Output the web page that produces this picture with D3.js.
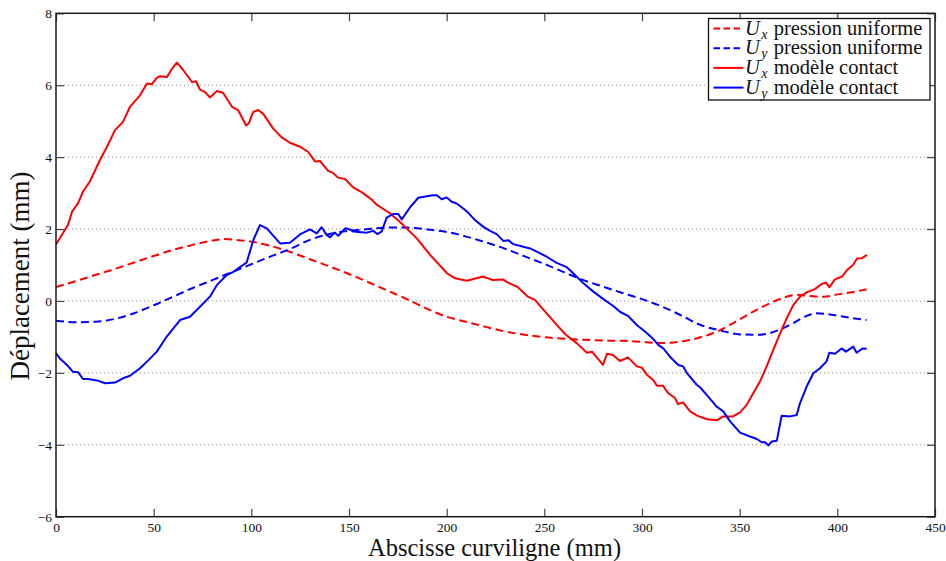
<!DOCTYPE html>
<html>
<head>
<meta charset="utf-8">
<script src="https://cdn.jsdelivr.net/npm/d3@7"></script>
<style>
  body { margin: 0; background: #fff; }
  svg { display: block; }
  svg text { font-family: 'Liberation Serif', 'DejaVu Serif', serif; fill: #111; }
</style>
</head>
<body>
<svg id="chart" width="946" height="561"></svg>
<script>
// Axis ticks and labels
const xTicks = [0, 50, 100, 150, 200, 250, 300, 350, 400, 450];
const xTickLabels = ["0", "50", "100", "150", "200", "250", "300", "350", "400", "450"];
const yTicks = [-6, -4, -2, 0, 2, 4, 6, 8];
const yTickLabels = ["\u22126", "\u22124", "\u22122", "0", "2", "4", "6", "8"];
const xLabel = "Abscisse curviligne (mm)";
const yLabel = "Déplacement (mm)";
const serif = "'Liberation Serif', 'DejaVu Serif', serif";

// Ux, uniform pressure  [abscissa mm, displacement mm]
const uxUniform = [
  [0, 0.39], [10, 0.55], [20, 0.72], [30, 0.89], [40, 1.07], [50, 1.25], [60, 1.42],
  [70, 1.56], [80, 1.68], [86, 1.72], [92, 1.70], [100, 1.65], [110, 1.53], [120, 1.36],
  [130, 1.16], [140, 0.96], [150, 0.75], [160, 0.52], [170, 0.28], [180, 0.04], [190, -0.22],
  [200, -0.44], [210, -0.58], [220, -0.72], [230, -0.85], [240, -0.94], [250, -1.01],
  [260, -1.05], [270, -1.08], [280, -1.10], [290, -1.11], [300, -1.14], [310, -1.17],
  [320, -1.13], [330, -1.01], [340, -0.81], [350, -0.51], [360, -0.21], [370, 0.04],
  [379, 0.17], [386, 0.14], [393, 0.12], [401, 0.19], [408, 0.25], [415, 0.32]
];

// Uy, uniform pressure
const uyUniform = [
  [0, -0.55], [10, -0.59], [20, -0.58], [30, -0.50], [40, -0.34], [50, -0.12], [60, 0.12],
  [70, 0.36], [80, 0.58], [90, 0.80], [100, 1.02], [110, 1.24], [120, 1.45], [130, 1.70],
  [140, 1.86], [150, 1.95], [160, 2.00], [170, 2.04], [180, 2.04], [190, 1.99], [200, 1.92],
  [210, 1.79], [220, 1.63], [230, 1.45], [240, 1.24], [250, 1.03], [260, 0.80], [270, 0.58],
  [280, 0.40], [290, 0.22], [300, 0.05], [310, -0.15], [320, -0.40], [330, -0.67],
  [340, -0.82], [350, -0.93], [360, -0.94], [370, -0.81], [378, -0.60], [384, -0.42],
  [389, -0.34], [398, -0.39], [408, -0.48], [415, -0.53]
];

// Ux, contact model
const uxContact = [
  [0, 1.57], [6.1, 2.11], [8.2, 2.48], [11.3, 2.72], [13.8, 3.04], [17.4, 3.33], [22.5, 3.92],
  [26.1, 4.29], [30.2, 4.75], [34.3, 4.98], [37.9, 5.40], [43.0, 5.72], [46.6, 6.05],
  [49.1, 6.03], [51.7, 6.21], [53.2, 6.25], [56.8, 6.23], [59.4, 6.46], [61.9, 6.63],
  [65.0, 6.43], [69.6, 6.09], [71.7, 6.11], [73.7, 5.88], [76.3, 5.81], [78.8, 5.66],
  [82.4, 5.84], [85.5, 5.79], [90.1, 5.40], [93.2, 5.31], [97.3, 4.88], [98.8, 4.95],
  [100.9, 5.25], [103.4, 5.31], [106.0, 5.21], [111.1, 4.80], [115.7, 4.54], [119.8, 4.40],
  [124.9, 4.29], [129.0, 4.15], [132.6, 3.88], [135.2, 3.89], [139.3, 3.62], [141.8, 3.56],
  [144.4, 3.43], [148.0, 3.39], [152.1, 3.16], [156.7, 3.02], [161.8, 2.81], [164.3, 2.67],
  [171.0, 2.44], [177.8, 2.11], [184.7, 1.74], [191.5, 1.28], [200.2, 0.77], [204.3, 0.63],
  [210.4, 0.56], [218.6, 0.68], [223.7, 0.58], [228.8, 0.60], [231.4, 0.51], [236.0, 0.40],
  [241.6, 0.12], [245.2, 0.03], [248.8, -0.20], [256.5, -0.67], [260.6, -0.92],
  [266.7, -1.18], [271.8, -1.44], [274.4, -1.41], [280.0, -1.78], [282.1, -1.47],
  [285.2, -1.50], [288.7, -1.67], [292.8, -1.57], [297.4, -1.82], [300.0, -1.86],
  [302.6, -2.06], [305.6, -2.19], [307.7, -2.36], [310.8, -2.36], [313.3, -2.56],
  [316.9, -2.70], [318.4, -2.87], [321.0, -2.82], [324.6, -3.07], [328.2, -3.19],
  [333.3, -3.29], [338.4, -3.32], [341.5, -3.21], [346.6, -3.21], [350.2, -3.10],
  [353.6, -2.89], [357.0, -2.56], [360.4, -2.24], [363.8, -1.82], [367.2, -1.36],
  [370.7, -0.90], [374.1, -0.48], [377.5, -0.11], [380.9, 0.12], [384.3, 0.24],
  [388.5, 0.33], [392.0, 0.47], [394.2, 0.51], [395.9, 0.38], [398.8, 0.60], [402.4, 0.68],
  [405.0, 0.86], [408.0, 1.00], [410.1, 1.18], [412.6, 1.19], [415.2, 1.28]
];

// Uy, contact model
const uyContact = [
  [0, -1.45], [2.0, -1.60], [5.6, -1.78], [8.7, -1.97], [11.3, -1.98], [13.8, -2.17],
  [16.4, -2.17], [21.0, -2.21], [25.1, -2.29], [30.2, -2.27], [34.3, -2.15], [37.9, -2.08],
  [43.0, -1.87], [47.1, -1.66], [51.6, -1.41], [56.7, -0.99], [63.5, -0.53], [68.6, -0.44],
  [73.7, -0.16], [78.8, 0.12], [82.3, 0.44], [87.4, 0.72], [90.8, 0.81], [94.2, 0.94],
  [97.6, 1.07], [101.0, 1.69], [104.4, 2.11], [107.9, 2.02], [114.7, 1.60], [119.8, 1.62],
  [124.9, 1.85], [130.0, 1.99], [133.5, 1.88], [136.0, 2.05], [138.6, 1.83], [140.3, 1.77],
  [142.8, 1.90], [144.5, 1.81], [148.0, 2.02], [150.5, 1.99], [152.2, 1.93], [159.1, 1.90],
  [162.4, 1.95], [164.5, 1.86], [166.7, 1.93], [169.3, 2.32], [172.7, 2.42], [175.2, 2.42],
  [177.0, 2.27], [181.2, 2.60], [185.5, 2.87], [189.8, 2.91], [193.2, 2.94], [194.9, 2.94],
  [197.5, 2.83], [200.0, 2.88], [202.6, 2.76], [205.1, 2.71], [208.5, 2.57], [211.1, 2.45],
  [214.5, 2.25], [218.8, 2.06], [222.2, 1.95], [225.6, 1.86], [229.0, 1.67], [231.6, 1.69],
  [234.1, 1.58], [239.2, 1.51], [242.7, 1.46], [246.1, 1.37], [251.2, 1.23], [256.3, 1.06],
  [261.5, 0.94], [264.8, 0.77], [270.0, 0.49], [275.1, 0.26], [280.2, 0.05], [285.3, -0.14],
  [288.7, -0.30], [293.0, -0.42], [297.3, -0.67], [301.5, -0.85], [305.8, -1.06],
  [308.3, -1.22], [310.9, -1.32], [314.3, -1.55], [318.6, -1.78], [321.1, -1.82],
  [322.9, -2.00], [328.0, -2.33], [329.7, -2.40], [333.1, -2.61], [338.2, -2.94],
  [341.6, -3.07], [345.1, -3.35], [350.2, -3.66], [355.3, -3.77], [358.8, -3.84],
  [361.3, -3.93], [363.0, -3.93], [364.7, -4.02], [366.4, -3.91], [369.0, -3.89],
  [371.5, -3.19], [375.8, -3.21], [379.2, -3.17], [380.9, -2.84], [384.3, -2.38],
  [387.7, -2.01], [391.1, -1.87], [394.5, -1.68], [395.9, -1.44], [398.8, -1.47],
  [402.2, -1.32], [404.4, -1.41], [408.1, -1.27], [409.9, -1.44], [412.8, -1.32],
  [415.0, -1.33]
];

const series = [
  { sub: "x", text: " pression uniforme", data: uxUniform, color: "#ff0000", dash: "8,4.5", smooth: true },
  { sub: "y", text: " pression uniforme", data: uyUniform, color: "#0000ff", dash: "8,4.5", smooth: true },
  { sub: "x", text: " modèle contact", data: uxContact, color: "#ff0000", dash: null, smooth: false },
  { sub: "y", text: " modèle contact", data: uyContact, color: "#0000ff", dash: null, smooth: false }
];

const W = 946, H = 561;
const margin = { left: 56, right: 11, top: 13.3, bottom: 44.3 };
const iw = W - margin.left - margin.right;
const ih = H - margin.top - margin.bottom;

const svg = d3.select("#chart");
const g = svg.append("g").attr("transform", `translate(${margin.left},${margin.top})`);

const x = d3.scaleLinear().domain([0, 450]).range([0, iw]);
const y = d3.scaleLinear().domain([-6, 8]).range([ih, 0]);

// horizontal dotted grid
g.append("g").selectAll("line")
  .data(yTicks.filter(v => v > -6 && v < 8))
  .join("line")
  .attr("x1", 0).attr("x2", iw)
  .attr("y1", d => y(d)).attr("y2", d => y(d))
  .attr("stroke", "#8a8a8a").attr("stroke-width", 1)
  .attr("stroke-dasharray", "1,3");

// series
series.forEach(s => {
  const line = d3.line()
    .x(d => x(d[0])).y(d => y(d[1]))
    .curve(s.smooth ? d3.curveMonotoneX : d3.curveLinear);
  g.append("path")
    .datum(s.data)
    .attr("d", line)
    .attr("fill", "none")
    .attr("stroke", s.color)
    .attr("stroke-width", 2)
    .attr("stroke-linejoin", "round")
    .attr("stroke-dasharray", s.dash);
});

// axes with inward ticks on all four sides
const tickColor = "#444";
const styleAxis = sel => {
  sel.attr("font-family", serif);
  sel.select(".domain").remove();
  sel.selectAll(".tick line").attr("stroke", tickColor).attr("stroke-width", 1.2);
  sel.selectAll(".tick text").attr("font-size", 13.5).attr("fill", "#111")
    .style("font-family", serif);
};

g.append("g").attr("transform", `translate(0,${ih})`)
  .call(d3.axisBottom(x).tickValues(xTicks).tickSizeInner(-8).tickSizeOuter(0).tickPadding(6)
    .tickFormat((d, i) => xTickLabels[i]))
  .call(styleAxis);

g.append("g")
  .call(d3.axisTop(x).tickValues(xTicks).tickSizeInner(-8).tickSizeOuter(0).tickFormat(""))
  .call(styleAxis);

g.append("g")
  .call(d3.axisLeft(y).tickValues(yTicks).tickSizeInner(-8).tickSizeOuter(0).tickPadding(4)
    .tickFormat((d, i) => yTickLabels[i]))
  .call(styleAxis);

g.append("g").attr("transform", `translate(${iw},0)`)
  .call(d3.axisRight(y).tickValues(yTicks).tickSizeInner(-8).tickSizeOuter(0).tickFormat(""))
  .call(styleAxis);

// frame
g.append("rect")
  .attr("x", 0).attr("y", 0).attr("width", iw).attr("height", ih)
  .attr("fill", "none").attr("stroke", "#1a1a1a").attr("stroke-width", 1.5);

// axis titles
svg.append("text")
  .attr("x", margin.left + iw / 2 - 1).attr("y", 556)
  .attr("text-anchor", "middle").attr("font-size", 24.5)
  .style("font-family", serif)
  .text(xLabel);

svg.append("text")
  .attr("transform", `translate(28.5,${margin.top + ih / 2 + 11}) rotate(-90)`)
  .attr("text-anchor", "middle").attr("font-size", 27)
  .style("font-family", serif)
  .text(yLabel);

// legend
const lg = svg.append("g").attr("transform", "translate(708.5,18.5)");
lg.append("rect")
  .attr("width", 221.5).attr("height", 81.5)
  .attr("fill", "#fff").attr("stroke", "#111").attr("stroke-width", 1.3);

series.forEach((s, i) => {
  const cy = 10 + i * 19.7;
  lg.append("line")
    .attr("x1", 5).attr("x2", 35).attr("y1", cy).attr("y2", cy)
    .attr("stroke", s.color).attr("stroke-width", 2)
    .attr("stroke-dasharray", s.dash ? "6.5,3.5" : null);
  const t = lg.append("text")
    .attr("x", 36.5).attr("y", cy + 6)
    .attr("font-size", 20.5)
    .style("font-family", serif);
  t.append("tspan").attr("font-style", "italic").text("U");
  t.append("tspan").attr("font-style", "italic").attr("font-size", 14)
    .attr("dx", 1.5).attr("dy", 4).text(s.sub);
  t.append("tspan").attr("dx", 1).attr("dy", -4).text(s.text);
});
</script>
</body>
</html>
